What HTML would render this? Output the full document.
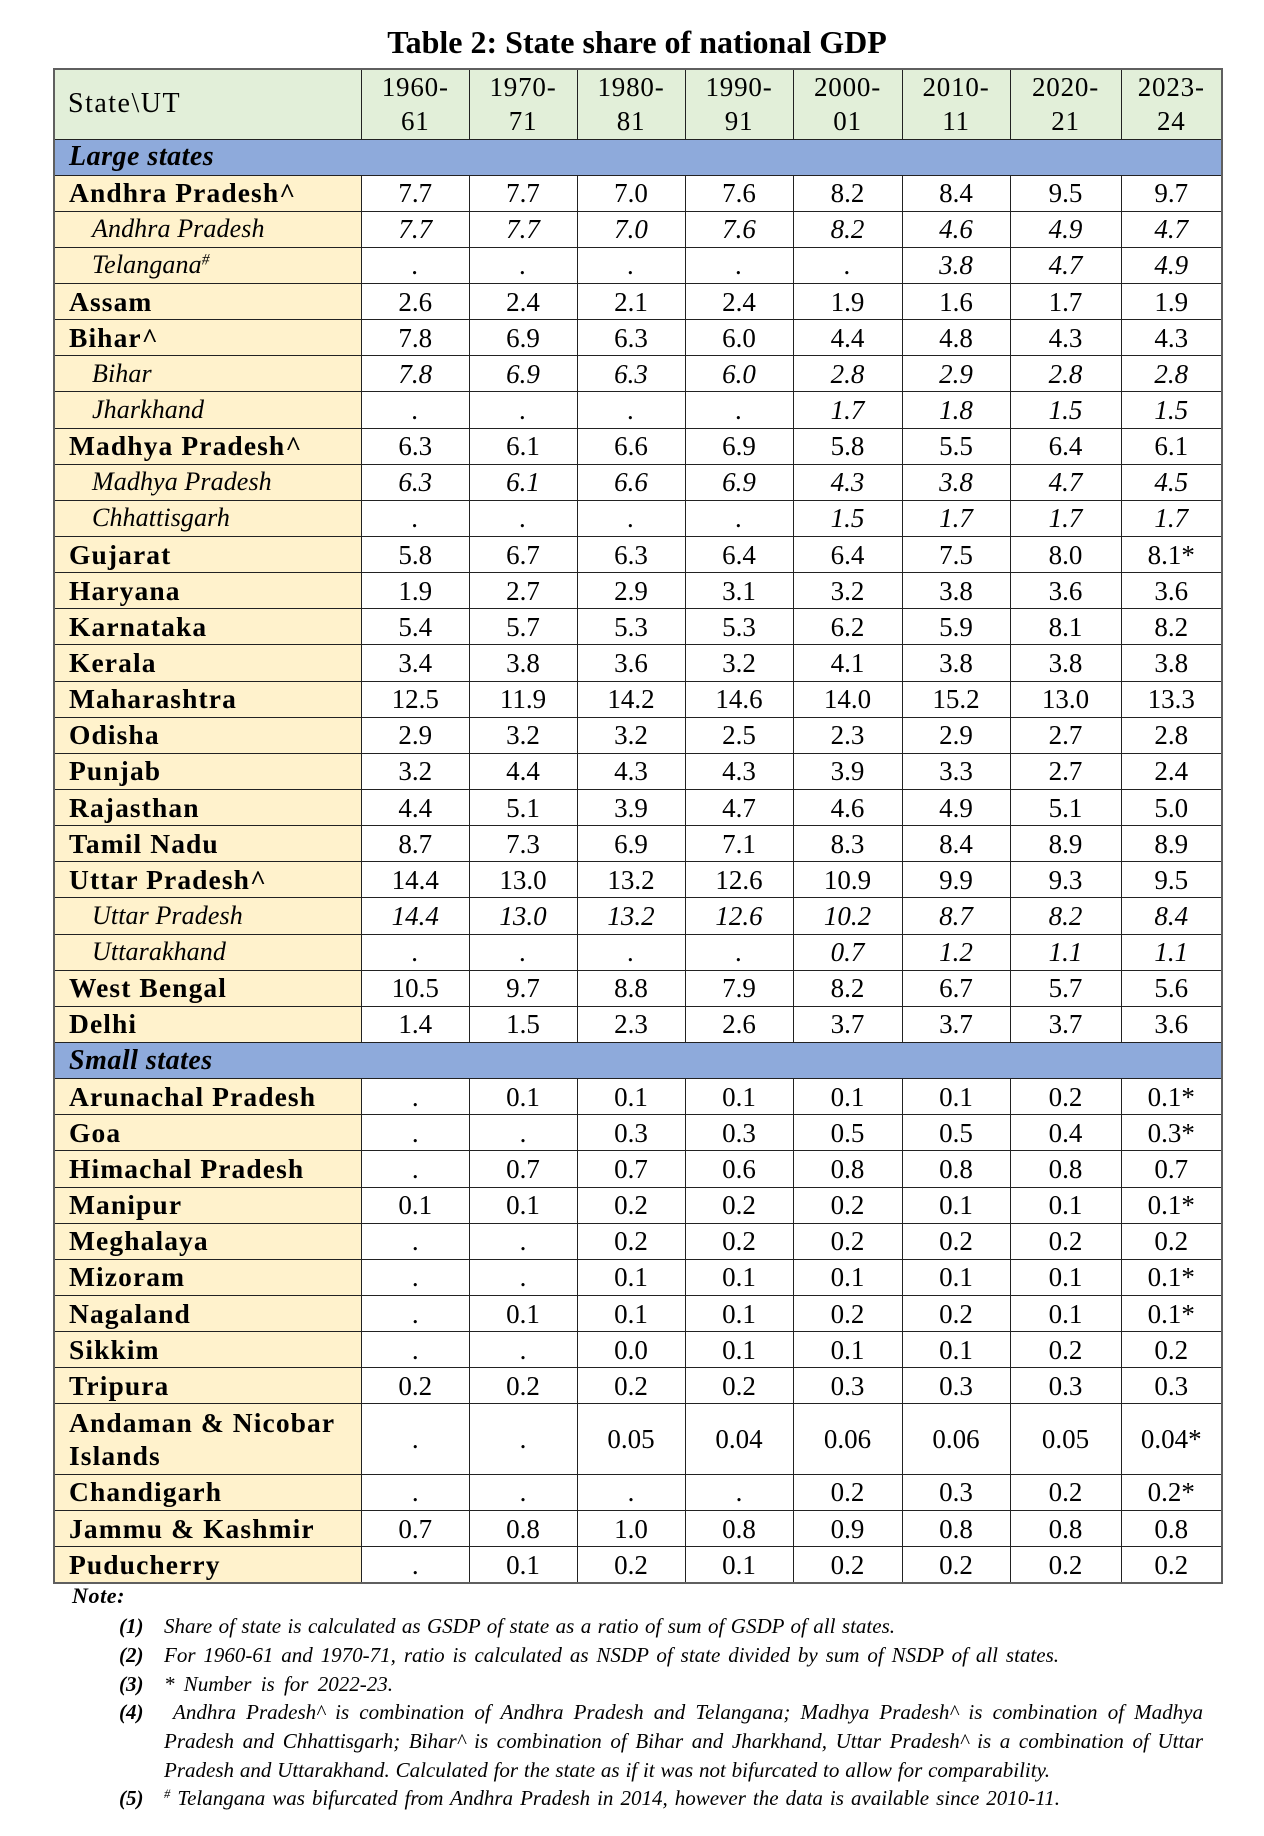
<!DOCTYPE html>
<html>
<head>
<meta charset="utf-8">
<style>
html,body{margin:0;padding:0;}
body{width:1264px;height:1836px;background:#fff;position:relative;font-family:"Liberation Serif","DejaVu Serif",serif;color:#000;overflow:hidden;}
.title{position:absolute;left:53px;width:1168px;top:22px;text-align:center;font-weight:bold;font-size:32px;line-height:40px;white-space:nowrap;}
table{position:absolute;left:53px;top:68px;border-collapse:collapse;table-layout:fixed;width:1168px;border:2px solid #5f5f5f;}
td{border:1px solid #222;padding:0;text-align:center;vertical-align:middle;font-size:27px;line-height:30px;white-space:nowrap;overflow:hidden;background:#fff;}
tr{height:36.15px;}
tr.h{height:70px;}
tr.h td{background:#e2efd9;line-height:34px;letter-spacing:0.8px;}
tr.h td.n{font-weight:normal;font-size:28px;letter-spacing:1.5px;padding-left:13px;}
td.n{text-align:left;background:#fff2cc;padding-left:14px;font-weight:bold;font-size:27.5px;letter-spacing:1.1px;}
tr.i td{font-style:italic;}
tr.i td.n{font-weight:normal;font-size:26px;letter-spacing:0.1px;padding-left:37px;}
tr.s td{background:#8eaadb;text-align:left;padding-left:14px;font-weight:bold;font-style:italic;font-size:28px;letter-spacing:0.5px;}
tr.an{height:70.5px;}
tr.an td.n{line-height:33px;}
sup{font-size:0.6em;line-height:0;vertical-align:0.55em;}
.nb{position:absolute;left:119px;font-weight:bold;font-style:italic;font-size:21px;line-height:29px;white-space:nowrap;}
.ln{position:absolute;font-style:italic;font-size:21px;line-height:29px;text-align:justify;text-align-last:justify;}
.note{position:absolute;left:72px;top:1581px;font-weight:bold;font-style:italic;font-size:22px;line-height:29px;letter-spacing:0.6px;}
</style>
</head>
<body>
<div class="title">Table 2: State share of national GDP</div>
<table>
<colgroup>
<col style="width:307.5px"><col style="width:107.5px"><col style="width:108px"><col style="width:108px"><col style="width:108px"><col style="width:109px"><col style="width:108px"><col style="width:111px"><col style="width:101px">
</colgroup>
<tr class="h"><td class="n">State\UT</td><td>1960-<br>61</td><td>1970-<br>71</td><td>1980-<br>81</td><td>1990-<br>91</td><td>2000-<br>01</td><td>2010-<br>11</td><td>2020-<br>21</td><td>2023-<br>24</td></tr>
<tr class="s"><td colspan="9">Large states</td></tr>
<tr><td class="n">Andhra Pradesh^</td><td>7.7</td><td>7.7</td><td>7.0</td><td>7.6</td><td>8.2</td><td>8.4</td><td>9.5</td><td>9.7</td></tr>
<tr class="i"><td class="n">Andhra Pradesh</td><td>7.7</td><td>7.7</td><td>7.0</td><td>7.6</td><td>8.2</td><td>4.6</td><td>4.9</td><td>4.7</td></tr>
<tr class="i"><td class="n">Telangana<sup>#</sup></td><td>.</td><td>.</td><td>.</td><td>.</td><td>.</td><td>3.8</td><td>4.7</td><td>4.9</td></tr>
<tr><td class="n">Assam</td><td>2.6</td><td>2.4</td><td>2.1</td><td>2.4</td><td>1.9</td><td>1.6</td><td>1.7</td><td>1.9</td></tr>
<tr><td class="n">Bihar^</td><td>7.8</td><td>6.9</td><td>6.3</td><td>6.0</td><td>4.4</td><td>4.8</td><td>4.3</td><td>4.3</td></tr>
<tr class="i"><td class="n">Bihar</td><td>7.8</td><td>6.9</td><td>6.3</td><td>6.0</td><td>2.8</td><td>2.9</td><td>2.8</td><td>2.8</td></tr>
<tr class="i"><td class="n">Jharkhand</td><td>.</td><td>.</td><td>.</td><td>.</td><td>1.7</td><td>1.8</td><td>1.5</td><td>1.5</td></tr>
<tr><td class="n">Madhya Pradesh^</td><td>6.3</td><td>6.1</td><td>6.6</td><td>6.9</td><td>5.8</td><td>5.5</td><td>6.4</td><td>6.1</td></tr>
<tr class="i"><td class="n">Madhya Pradesh</td><td>6.3</td><td>6.1</td><td>6.6</td><td>6.9</td><td>4.3</td><td>3.8</td><td>4.7</td><td>4.5</td></tr>
<tr class="i"><td class="n">Chhattisgarh</td><td>.</td><td>.</td><td>.</td><td>.</td><td>1.5</td><td>1.7</td><td>1.7</td><td>1.7</td></tr>
<tr><td class="n">Gujarat</td><td>5.8</td><td>6.7</td><td>6.3</td><td>6.4</td><td>6.4</td><td>7.5</td><td>8.0</td><td>8.1*</td></tr>
<tr><td class="n">Haryana</td><td>1.9</td><td>2.7</td><td>2.9</td><td>3.1</td><td>3.2</td><td>3.8</td><td>3.6</td><td>3.6</td></tr>
<tr><td class="n">Karnataka</td><td>5.4</td><td>5.7</td><td>5.3</td><td>5.3</td><td>6.2</td><td>5.9</td><td>8.1</td><td>8.2</td></tr>
<tr><td class="n">Kerala</td><td>3.4</td><td>3.8</td><td>3.6</td><td>3.2</td><td>4.1</td><td>3.8</td><td>3.8</td><td>3.8</td></tr>
<tr><td class="n">Maharashtra</td><td>12.5</td><td>11.9</td><td>14.2</td><td>14.6</td><td>14.0</td><td>15.2</td><td>13.0</td><td>13.3</td></tr>
<tr><td class="n">Odisha</td><td>2.9</td><td>3.2</td><td>3.2</td><td>2.5</td><td>2.3</td><td>2.9</td><td>2.7</td><td>2.8</td></tr>
<tr><td class="n">Punjab</td><td>3.2</td><td>4.4</td><td>4.3</td><td>4.3</td><td>3.9</td><td>3.3</td><td>2.7</td><td>2.4</td></tr>
<tr><td class="n">Rajasthan</td><td>4.4</td><td>5.1</td><td>3.9</td><td>4.7</td><td>4.6</td><td>4.9</td><td>5.1</td><td>5.0</td></tr>
<tr><td class="n">Tamil Nadu</td><td>8.7</td><td>7.3</td><td>6.9</td><td>7.1</td><td>8.3</td><td>8.4</td><td>8.9</td><td>8.9</td></tr>
<tr><td class="n">Uttar Pradesh^</td><td>14.4</td><td>13.0</td><td>13.2</td><td>12.6</td><td>10.9</td><td>9.9</td><td>9.3</td><td>9.5</td></tr>
<tr class="i"><td class="n">Uttar Pradesh</td><td>14.4</td><td>13.0</td><td>13.2</td><td>12.6</td><td>10.2</td><td>8.7</td><td>8.2</td><td>8.4</td></tr>
<tr class="i"><td class="n">Uttarakhand</td><td>.</td><td>.</td><td>.</td><td>.</td><td>0.7</td><td>1.2</td><td>1.1</td><td>1.1</td></tr>
<tr><td class="n">West Bengal</td><td>10.5</td><td>9.7</td><td>8.8</td><td>7.9</td><td>8.2</td><td>6.7</td><td>5.7</td><td>5.6</td></tr>
<tr><td class="n">Delhi</td><td>1.4</td><td>1.5</td><td>2.3</td><td>2.6</td><td>3.7</td><td>3.7</td><td>3.7</td><td>3.6</td></tr>
<tr class="s"><td colspan="9">Small states</td></tr>
<tr><td class="n">Arunachal Pradesh</td><td>.</td><td>0.1</td><td>0.1</td><td>0.1</td><td>0.1</td><td>0.1</td><td>0.2</td><td>0.1*</td></tr>
<tr><td class="n">Goa</td><td>.</td><td>.</td><td>0.3</td><td>0.3</td><td>0.5</td><td>0.5</td><td>0.4</td><td>0.3*</td></tr>
<tr><td class="n">Himachal Pradesh</td><td>.</td><td>0.7</td><td>0.7</td><td>0.6</td><td>0.8</td><td>0.8</td><td>0.8</td><td>0.7</td></tr>
<tr><td class="n">Manipur</td><td>0.1</td><td>0.1</td><td>0.2</td><td>0.2</td><td>0.2</td><td>0.1</td><td>0.1</td><td>0.1*</td></tr>
<tr><td class="n">Meghalaya</td><td>.</td><td>.</td><td>0.2</td><td>0.2</td><td>0.2</td><td>0.2</td><td>0.2</td><td>0.2</td></tr>
<tr><td class="n">Mizoram</td><td>.</td><td>.</td><td>0.1</td><td>0.1</td><td>0.1</td><td>0.1</td><td>0.1</td><td>0.1*</td></tr>
<tr><td class="n">Nagaland</td><td>.</td><td>0.1</td><td>0.1</td><td>0.1</td><td>0.2</td><td>0.2</td><td>0.1</td><td>0.1*</td></tr>
<tr><td class="n">Sikkim</td><td>.</td><td>.</td><td>0.0</td><td>0.1</td><td>0.1</td><td>0.1</td><td>0.2</td><td>0.2</td></tr>
<tr><td class="n">Tripura</td><td>0.2</td><td>0.2</td><td>0.2</td><td>0.2</td><td>0.3</td><td>0.3</td><td>0.3</td><td>0.3</td></tr>
<tr class="an"><td class="n">Andaman &amp; Nicobar<br>Islands</td><td>.</td><td>.</td><td>0.05</td><td>0.04</td><td>0.06</td><td>0.06</td><td>0.05</td><td>0.04*</td></tr>
<tr><td class="n">Chandigarh</td><td>.</td><td>.</td><td>.</td><td>.</td><td>0.2</td><td>0.3</td><td>0.2</td><td>0.2*</td></tr>
<tr><td class="n">Jammu &amp; Kashmir</td><td>0.7</td><td>0.8</td><td>1.0</td><td>0.8</td><td>0.9</td><td>0.8</td><td>0.8</td><td>0.8</td></tr>
<tr><td class="n">Puducherry</td><td>.</td><td>0.1</td><td>0.2</td><td>0.1</td><td>0.2</td><td>0.2</td><td>0.2</td><td>0.2</td></tr>
</table>

<div class="note">Note:</div>

<div class="nb" style="top:1612px;">(1)</div>
<div class="ln" style="top:1612px;left:164px;width:731px;">Share of state is calculated as GSDP of state as a ratio of sum of GSDP of all states.</div>

<div class="nb" style="top:1641px;">(2)</div>
<div class="ln" style="top:1641px;left:164px;width:895px;">For 1960-61 and 1970-71, ratio is calculated as NSDP of state divided by sum of NSDP of all states.</div>

<div class="nb" style="top:1670px;">(3)</div>
<div class="ln" style="top:1670px;left:164px;width:229px;">* Number is for 2022-23.</div>

<div class="nb" style="top:1698px;">(4)</div>
<div class="ln" style="top:1698px;left:173px;width:1030px;">Andhra Pradesh^ is combination of Andhra Pradesh and Telangana; Madhya Pradesh^ is combination of Madhya</div>
<div class="ln" style="top:1727px;left:164px;width:1039px;">Pradesh and Chhattisgarh; Bihar^ is combination of Bihar and Jharkhand, Uttar Pradesh^ is a combination of Uttar</div>
<div class="ln" style="top:1756px;left:164px;width:886px;">Pradesh and Uttarakhand. Calculated for the state as if it was not bifurcated to allow for comparability.</div>

<div class="nb" style="top:1784px;">(5)</div>
<div class="ln" style="top:1784px;left:164px;width:896px;"><sup>#</sup> Telangana was bifurcated from Andhra Pradesh in 2014, however the data is available since 2010-11.</div>
</body>
</html>
